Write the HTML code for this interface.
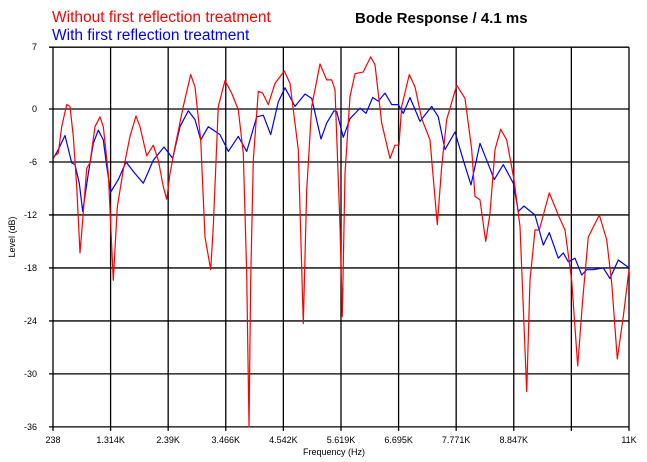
<!DOCTYPE html>
<html><head><meta charset="utf-8"><style>
body{margin:0;background:#fff;}
svg{display:block;font-family:"Liberation Sans",Arial,sans-serif;}
</style></head><body>
<svg id="chart" width="647" height="462">
<text x="52" y="22" font-size="15.5" fill="#ff0000">Without first reflection treatment</text>
<text x="52" y="40" font-size="15.5" fill="#0000ff">With first reflection treatment</text>
<text x="355" y="23" font-size="15" font-weight="bold">Bode Response / 4.1 ms</text>
<text x="15" y="237" font-size="9" text-anchor="middle" transform="rotate(-90 15 237)">Level (dB)</text>
<text x="334" y="455" font-size="9" text-anchor="middle">Frequency (Hz)</text>
<g id="grid"></g><g id="series"></g>
</svg>
<script>
const xTicks=[238,1314,2390,3466,4542,5619,6695,7771,8847,9923,11000];
const xTickLabels=["238","1.314K","2.39K","3.466K","4.542K","5.619K","6.695K","7.771K","8.847K","","11K"];
const yTicks=[7,0,-6,-12,-18,-24,-30,-36];
const redFreq=[244,337,400,494,556,617,681,742,793,868,929,1023,1116,1178,1271,1316,1365,1439,1551,1677,1789,1863,1989,2112,2205,2299,2362,2424,2517,2673,2811,2891,2998,3078,3185,3233,3327,3452,3577,3700,3794,3857,3900,3932,3980,4074,4156,4261,4386,4560,4666,4821,4915,4978,5072,5227,5352,5445,5507,5600,5643,5694,5787,5881,6036,6174,6254,6379,6535,6628,6703,6753,6895,7001,7127,7282,7418,7500,7594,7781,7936,8061,8123,8216,8323,8403,8496,8603,8715,8851,8963,9089,9150,9244,9324,9511,9679,9804,9929,10041,10135,10240,10445,10583,10677,10781,10894,11000];
const redDb=[-5.4,-5.0,-2.0,0.5,0.3,-3.1,-8.8,-16.3,-12.6,-6.7,-6.1,-2.0,-0.9,-2.0,-7.3,-13.1,-19.4,-11.1,-6.9,-3.1,-0.8,-2.0,-5.3,-4.1,-5.8,-8.8,-10.2,-7.3,-4.3,0.3,3.9,2.5,-3.5,-14.5,-18.2,-13.3,0.3,3.2,1.8,-0.1,-5.0,-18.6,-36,-19.4,-5.8,2.0,1.8,0.5,2.9,4.3,2.9,-4.6,-24.3,-9.2,0.3,5.1,3.3,3.3,2.2,-13.3,-23.5,-7.3,1.4,4.0,4.2,5.9,5.0,-1.6,-5.6,-4.1,-4.1,0.3,3.9,2.5,-1.1,-3.5,-13.1,-6.5,-1.2,2.7,1.2,-4.6,-9.9,-10.3,-15.0,-11.8,-4.6,-2.3,-3.5,-8.0,-13.3,-32.0,-19.4,-13.7,-13.7,-9.5,-12.0,-13.7,-19.4,-29.1,-21.6,-14.5,-12.0,-14.8,-19.7,-28.3,-23.5,-18.2];
const blueFreq=[244,337,462,587,649,729,793,898,991,1084,1178,1241,1316,1458,1602,1770,1925,2112,2312,2474,2611,2766,2891,2998,3140,3358,3513,3700,3857,4044,4167,4305,4448,4573,4760,4946,5072,5245,5352,5488,5539,5662,5787,5974,6086,6211,6316,6441,6566,6690,6783,6908,7095,7314,7437,7562,7749,7904,8048,8216,8341,8483,8652,8838,8932,9038,9244,9399,9511,9679,9773,9866,9991,10116,10210,10333,10520,10645,10800,11000];
const blueDb=[-5.6,-4.6,-3.0,-6.1,-6.3,-8.4,-11.6,-7.3,-3.9,-2.4,-3.5,-6.5,-9.4,-8.0,-6.0,-7.3,-8.4,-5.8,-4.3,-5.6,-2.0,-0.2,-1.2,-3.5,-2.0,-2.9,-4.8,-3.1,-4.8,-0.9,-0.7,-2.9,0.8,2.4,0.3,1.7,1.2,-3.4,-1.6,-0.2,-0.3,-3.2,-1.1,0.1,-0.5,1.3,0.9,1.8,0.5,0.5,-0.5,1.3,-1.4,0.3,-0.9,-4.6,-2.6,-5.8,-8.6,-3.9,-5.8,-8.0,-6.3,-8.4,-11.6,-11.0,-12.0,-15.4,-14.0,-16.9,-16.3,-17.3,-16.9,-18.8,-18.2,-18.2,-18.0,-19.2,-17.1,-18.0];
const X0=53,X1=629,Y0=109,PXDB=8.83,F0=238,F1=11000;
const xs=f=>X0+(f-F0)/(F1-F0)*(X1-X0);
const ys=d=>Y0-d*PXDB;
const NS="http://www.w3.org/2000/svg";
const grid=document.getElementById('grid'),series=document.getElementById('series');
function mk(tag,attrs,parent){const e=document.createElementNS(NS,tag);for(const k in attrs)e.setAttribute(k,attrs[k]);parent.appendChild(e);return e;}
xTicks.forEach((t,i)=>{
  const l=mk('line',{x1:xs(t),x2:xs(t),y1:ys(7),y2:ys(-36)+4,stroke:'#000','stroke-width':1.3},grid);
  
  
  const tx=mk('text',{x:xs(t),y:ys(-36)+16,'font-size':9,'text-anchor':'middle'},grid);
  tx.textContent=xTickLabels[i];
  
  
});
yTicks.forEach(t=>{
  const l=mk('line',{x1:X0-4,x2:X1,y1:ys(t),y2:ys(t),stroke:'#000','stroke-width':1.3},grid);
  
  
  const tx=mk('text',{x:37,y:ys(t)+3,'font-size':9,'text-anchor':'end'},grid);
  tx.textContent=String(t);
  
  
});
function line(fr,db,col,name){
  const pts=fr.map((f,i)=>xs(f).toFixed(1)+','+ys(db[i]).toFixed(1)).join(' ');
  const p=mk('polyline',{points:pts,fill:'none',stroke:col,'stroke-width':1.2,'stroke-linejoin':'round'},series);
  
  
}
line(blueFreq,blueDb,'#0000ff','series-with-treatment');
line(redFreq,redDb,'#ff0000','series-without-treatment');
</script>
</body></html>
